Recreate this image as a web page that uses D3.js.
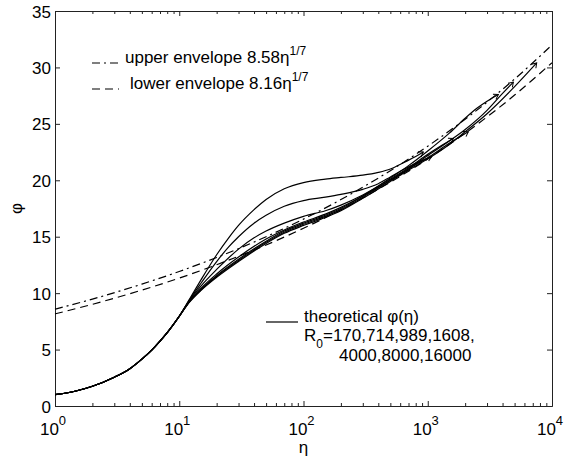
<!DOCTYPE html>
<html>
<head>
<meta charset="utf-8">
<script src="https://cdn.jsdelivr.net/npm/d3@7"></script>
<style>
  body { margin: 0; background: #fff; }
  text { font-family: "Liberation Sans", Arial, Helvetica, sans-serif; fill: #000; }
</style>
</head>
<body>
<div id="chart"></div>
<script>
// data: eta (log axis) vs phi
var xMajor = [1, 10, 100, 1000, 10000];
var xExponents = [0, 1, 2, 3, 4];
var yTicks = [0, 5, 10, 15, 20, 25, 30, 35];

var envEta   = [1, 2, 5, 10, 20, 50, 100, 200, 500, 1000, 2000, 5000, 10000];
var envUpper = [8.58, 9.47, 10.8, 11.92, 13.16, 15.0, 16.56, 18.29, 20.85, 23.02, 25.41, 28.97, 31.99];
var envLower = [8.16, 9.01, 10.27, 11.33, 12.52, 14.27, 15.75, 17.39, 19.83, 21.89, 24.17, 27.55, 30.42];

// common part of all theoretical curves (eta <= 10)
var baseCurve = [[1, 1.0], [1.5, 1.35], [2, 1.75], [3, 2.55], [4, 3.3], [5, 4.15], [6, 4.95], [7, 5.75], [8, 6.5], [10, 7.95]];

var curveA = [[12, 9.4], [15, 11.2], [20, 13.4], [25, 14.9], [30, 16.0], [40, 17.4], [50, 18.3], [70, 19.25], [100, 19.8], [150, 20.1], [200, 20.25], [300, 20.45], [400, 20.7], [500, 21.0], [650, 21.6], [800, 22.1], [921, 22.5]];
var curveB = [[12, 9.35], [15, 10.9], [20, 12.8], [25, 14.1], [30, 15.0], [40, 16.2], [50, 16.9], [70, 17.7], [100, 18.2], [150, 18.5], [200, 18.75], [300, 19.2], [400, 19.7], [500, 20.3], [600, 20.8], [800, 21.5], [1076, 22.1]];
var curveC = [[12, 9.3], [15, 10.65], [20, 12.1], [30, 13.9], [40, 14.9], [50, 15.5], [70, 16.2], [100, 16.8], [150, 17.3], [200, 17.8], [300, 18.7], [500, 20.1], [700, 21.1], [1000, 22.3], [1300, 23.1], [1607, 23.7]];
var curveD = [[12, 9.25], [15, 10.45], [20, 11.7], [30, 13.2], [50, 14.8], [70, 15.6], [100, 16.3], [150, 17.0], [200, 17.6], [300, 18.6], [500, 20.0], [700, 21.0], [1000, 22.0], [1500, 23.3], [2122, 24.3]];
var curveE = [[12, 9.2], [15, 10.35], [20, 11.55], [30, 13.0], [50, 14.6], [70, 15.5], [100, 16.2], [150, 16.9], [200, 17.5], [300, 18.6], [500, 20.2], [700, 21.3], [1000, 22.6], [1500, 24.2], [2000, 25.5], [2500, 26.4], [3000, 27.0], [3700, 27.6]];
var curveF = [[12, 9.2], [15, 10.3], [20, 11.5], [30, 12.9], [50, 14.5], [70, 15.4], [100, 16.1], [150, 16.8], [200, 17.4], [300, 18.5], [500, 20.0], [700, 21.0], [1000, 22.2], [1500, 23.5], [2000, 24.5], [3000, 26.2], [4000, 27.7], [4886, 28.7]];
var curveG = [[12, 9.15], [15, 10.25], [20, 11.4], [30, 12.8], [50, 14.4], [70, 15.3], [100, 16.0], [150, 16.7], [200, 17.3], [300, 18.4], [500, 19.9], [700, 20.9], [1000, 21.9], [1500, 23.2], [2000, 24.3], [3000, 25.9], [5000, 28.3], [7530, 30.4]];

var curves = [curveA, curveB, curveC, curveD, curveE, curveF, curveG];

var W = 565, H = 463;
var margin = {top: 11, right: 13, bottom: 57, left: 55};

var svg = d3.select("#chart").append("svg")
    .attr("width", W).attr("height", H);

svg.append("rect").attr("width", W).attr("height", H).attr("fill", "#fff");

// small open head that the original plot shows at the end of each curve
var defs = svg.append("defs");
defs.append("marker")
    .attr("id", "tip")
    .attr("markerUnits", "userSpaceOnUse")
    .attr("markerWidth", 12).attr("markerHeight", 12)
    .attr("refX", 6).attr("refY", 6)
    .attr("orient", "auto")
  .append("path")
    .attr("d", "M1.5,3 L6,6 L1.5,9")
    .attr("fill", "none").attr("stroke", "#000").attr("stroke-width", 1);

var x = d3.scaleLog().domain([1, 10000]).range([margin.left, W - margin.right]);
var y = d3.scaleLinear().domain([0, 35]).range([H - margin.bottom, margin.top]);

// minor ticks for log axis
var xMinor = [];
for (var k = 0; k < 4; k++) {
  for (var m = 2; m < 10; m++) xMinor.push(m * Math.pow(10, k));
}

var axisColor = "#222";

function styleAxis(g) {
  g.selectAll("path.domain").attr("stroke", axisColor).attr("stroke-width", 1);
  g.selectAll(".tick line").attr("stroke", axisColor).attr("stroke-width", 1);
  g.selectAll(".tick text").remove();
}

// bottom / top major + minor ticks (pointing inwards)
svg.append("g").attr("transform", "translate(0," + y(0) + ")")
  .call(d3.axisBottom(x).tickValues(xMinor).tickSizeInner(-3).tickSizeOuter(0).tickFormat(""))
  .call(styleAxis);
svg.append("g").attr("transform", "translate(0," + y(0) + ")")
  .call(d3.axisBottom(x).tickValues(xMajor).tickSizeInner(-5).tickSizeOuter(0).tickFormat(""))
  .call(styleAxis);
svg.append("g").attr("transform", "translate(0," + y(35) + ")")
  .call(d3.axisTop(x).tickValues(xMinor).tickSizeInner(-3).tickSizeOuter(0).tickFormat(""))
  .call(styleAxis);
svg.append("g").attr("transform", "translate(0," + y(35) + ")")
  .call(d3.axisTop(x).tickValues(xMajor).tickSizeInner(-5).tickSizeOuter(0).tickFormat(""))
  .call(styleAxis);

// left / right
var yLeft = svg.append("g").attr("transform", "translate(" + x(1) + ",0)")
  .call(d3.axisLeft(y).tickValues(yTicks).tickSizeInner(-5).tickSizeOuter(0));
yLeft.selectAll("path.domain").attr("stroke", axisColor);
yLeft.selectAll(".tick line").attr("stroke", axisColor);
yLeft.selectAll(".tick text")
    .attr("x", -4).attr("dy", "0.36em")
    .style("font-size", "17px").style("font-family", "Liberation Sans, Arial, sans-serif")
    .attr("fill", "#000");

svg.append("g").attr("transform", "translate(" + x(10000) + ",0)")
  .call(d3.axisRight(y).tickValues(yTicks).tickSizeInner(-5).tickSizeOuter(0).tickFormat(""))
  .call(styleAxis);

// x tick labels 10^k
xMajor.forEach(function(v, i) {
  var t = svg.append("text")
      .attr("x", x(v) - 2).attr("y", 435)
      .attr("text-anchor", "middle")
      .style("font-size", "17px");
  t.append("tspan").text("10");
  t.append("tspan").attr("dy", -10).style("font-size", "13px").text(xExponents[i]);
});

// axis titles
svg.append("text")
    .attr("x", (x(1) + x(10000)) / 2).attr("y", 453)
    .attr("text-anchor", "middle")
    .style("font-size", "17px")
    .text("η");
svg.append("text")
    .attr("transform", "translate(22," + ((y(0) + y(35)) / 2) + ") rotate(-90)")
    .attr("text-anchor", "middle")
    .style("font-size", "17px")
    .text("φ");

// envelopes
var envLine = d3.line()
    .x(function(d) { return x(d[0]); })
    .y(function(d) { return y(d[1]); })
    .curve(d3.curveMonotoneX);

svg.append("path")
    .datum(envEta.map(function(e, i) { return [e, envUpper[i]]; }))
    .attr("d", envLine)
    .attr("fill", "none").attr("stroke", "#000").attr("stroke-width", 1.2)
    .attr("stroke-dasharray", "8,4,2,4");
svg.append("path")
    .datum(envEta.map(function(e, i) { return [e, envLower[i]]; }))
    .attr("d", envLine)
    .attr("fill", "none").attr("stroke", "#000").attr("stroke-width", 1.2)
    .attr("stroke-dasharray", "8,5");

// theoretical curves
var curveLine = d3.line()
    .x(function(d) { return x(d[0]); })
    .y(function(d) { return y(d[1]); })
    .curve(d3.curveMonotoneX);

svg.selectAll("path.theory")
    .data(curves)
  .enter().append("path")
    .attr("class", "theory")
    .attr("d", function(c) { return curveLine(baseCurve.concat(c)); })
    .attr("fill", "none").attr("stroke", "#000").attr("stroke-width", 1.2)
    .attr("marker-end", "url(#tip)");

// legend, top left
var lg = svg.append("g");
lg.append("line").attr("x1", 92).attr("x2", 119).attr("y1", 63).attr("y2", 63)
    .attr("stroke", "#000").attr("stroke-width", 1.2).attr("stroke-dasharray", "8,4,2,4");
var t1 = lg.append("text").attr("x", 125).attr("y", 63).style("font-size", "17px");
t1.append("tspan").text("upper envelope 8.58η");
t1.append("tspan").attr("dy", -8).style("font-size", "12px").text("1/7");

lg.append("line").attr("x1", 92).attr("x2", 119).attr("y1", 89).attr("y2", 89)
    .attr("stroke", "#000").attr("stroke-width", 1.2).attr("stroke-dasharray", "8,5");
var t2 = lg.append("text").attr("x", 130).attr("y", 89).style("font-size", "17px");
t2.append("tspan").text("lower envelope 8.16η");
t2.append("tspan").attr("dy", -8).style("font-size", "12px").text("1/7");

// legend, bottom right
svg.append("line").attr("x1", 266).attr("x2", 298).attr("y1", 322).attr("y2", 322)
    .attr("stroke", "#000").attr("stroke-width", 1.2);
svg.append("text").attr("x", 304).attr("y", 322).style("font-size", "17px")
    .text("theoretical φ(η)");
var t3 = svg.append("text").attr("x", 304).attr("y", 341).style("font-size", "17px");
t3.append("tspan").text("R");
t3.append("tspan").attr("dy", 7).style("font-size", "12px").text("0");
t3.append("tspan").attr("dy", -7).text("=170,714,989,1608,");
svg.append("text").attr("x", 339).attr("y", 361).style("font-size", "17px")
    .text("4000,8000,16000");
</script>
</body>
</html>
